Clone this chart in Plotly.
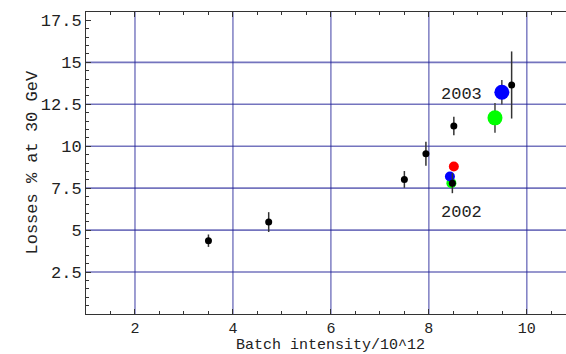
import plotly.graph_objects as go

# Black measurements with error bars
black_x = [3.50, 4.73, 7.50, 7.94, 8.51, 8.48, 9.69]
black_y = [4.37, 5.48, 8.02, 9.55, 11.21, 7.80, 13.65]
black_err = [0.37, 0.59, 0.50, 0.71, 0.55, 0.60, 2.00]

# 2002 coloured points (small)
c2002_x = [8.46, 8.43, 8.51]
c2002_y = [7.80, 8.20, 8.79]
c2002_col = ["#00ff00", "#0000ff", "#ff0000"]

# 2003 coloured points (large)
c2003_x = [9.35, 9.49]
c2003_y = [11.69, 13.22]
c2003_err = [0.88, 0.73]
c2003_col = ["#00ff00", "#0000ff"]

year_labels = ["2003", "2002"]
year_x = [8.67, 8.67]
year_y = [13.08, 6.04]

grid_x = [2, 4, 6, 8, 10]
grid_y = [2.5, 5, 7.5, 10, 12.5, 15]
y_ticks = [2.5, 5, 7.5, 10, 12.5, 15, 17.5]
y_ticklabels = ["2.5", "5", "7.5", "10", "12.5", "15", "17.5"]
x_ticks = [2, 4, 6, 8, 10]

FONT = "Liberation Mono"
FS = 17
GRIDCOL = "rgba(30,30,150,0.62)"

fig = go.Figure()

# gridlines
for gx in grid_x:
    fig.add_shape(type="line", xref="x", yref="paper", x0=gx, x1=gx, y0=0, y1=1,
                  line=dict(color=GRIDCOL, width=1.4), layer="below")
for gy in grid_y:
    fig.add_shape(type="line", xref="paper", yref="y", x0=0, x1=1, y0=gy, y1=gy,
                  line=dict(color=GRIDCOL, width=1.6), layer="below")

# 2003 large points with error bars
fig.add_trace(go.Scatter(
    x=c2003_x, y=c2003_y, mode="markers",
    error_y=dict(type="data", array=c2003_err, visible=True, color="#444444", thickness=1.5, width=0),
    marker=dict(color=c2003_col, size=15, line=dict(width=0)),
    showlegend=False))

# 2002 small coloured points
fig.add_trace(go.Scatter(
    x=c2002_x, y=c2002_y, mode="markers",
    marker=dict(color=c2002_col, size=10, line=dict(width=0)),
    showlegend=False))

# black points with error bars
fig.add_trace(go.Scatter(
    x=black_x, y=black_y, mode="markers",
    error_y=dict(type="data", array=black_err, visible=True, color="#333333", thickness=1.5, width=0),
    marker=dict(color="black", size=7, line=dict(width=0)),
    showlegend=False))

for t, x, y in zip(year_labels, year_x, year_y):
    fig.add_annotation(x=x, y=y, xref="x", yref="y", text=t, showarrow=False,
                       font=dict(family=FONT, size=FS, color="#222222"))

# axis titles
fig.add_annotation(x=(330 - 86) / 480, y=-41 / 302, xref="paper", yref="paper",
                   text="Batch intensity/10^12", showarrow=False, yanchor="bottom",
                   borderpad=0,
                   font=dict(family=FONT, size=15, color="#222222"))
fig.add_annotation(x=(20 - 86) / 480, y=(314 - 163) / 302, xref="paper", yref="paper",
                   text="Losses % at 30 GeV", showarrow=False, textangle=-90,
                   font=dict(family=FONT, size=FS, color="#222222"))

fig.update_layout(
    width=566, height=354,
    margin=dict(l=86, r=0, t=12, b=40),
    plot_bgcolor="white", paper_bgcolor="white",
    font=dict(family=FONT, size=FS, color="#222222"),
    xaxis=dict(range=[1, 10.8], showgrid=False, zeroline=False,
               tickvals=x_ticks, ticks="inside", ticklen=5, tickcolor="#333",
               showline=True, linecolor="#333", linewidth=1, mirror="ticks",
               minor=dict(dtick=0.5, tick0=0, ticks="inside", ticklen=3, tickcolor="#333"),
               tickfont=dict(family=FONT, size=15)),
    yaxis=dict(range=[0, 18], showgrid=False, zeroline=False,
               tickvals=y_ticks, ticktext=y_ticklabels, ticks="inside", ticklen=5, tickcolor="#333",
               showline=True, linecolor="#333", linewidth=1, mirror=False,
               minor=dict(dtick=0.5, tick0=0, ticks="inside", ticklen=3, tickcolor="#333"),
               tickfont=dict(family=FONT, size=FS)),
)

fig.write_html("out.html")
